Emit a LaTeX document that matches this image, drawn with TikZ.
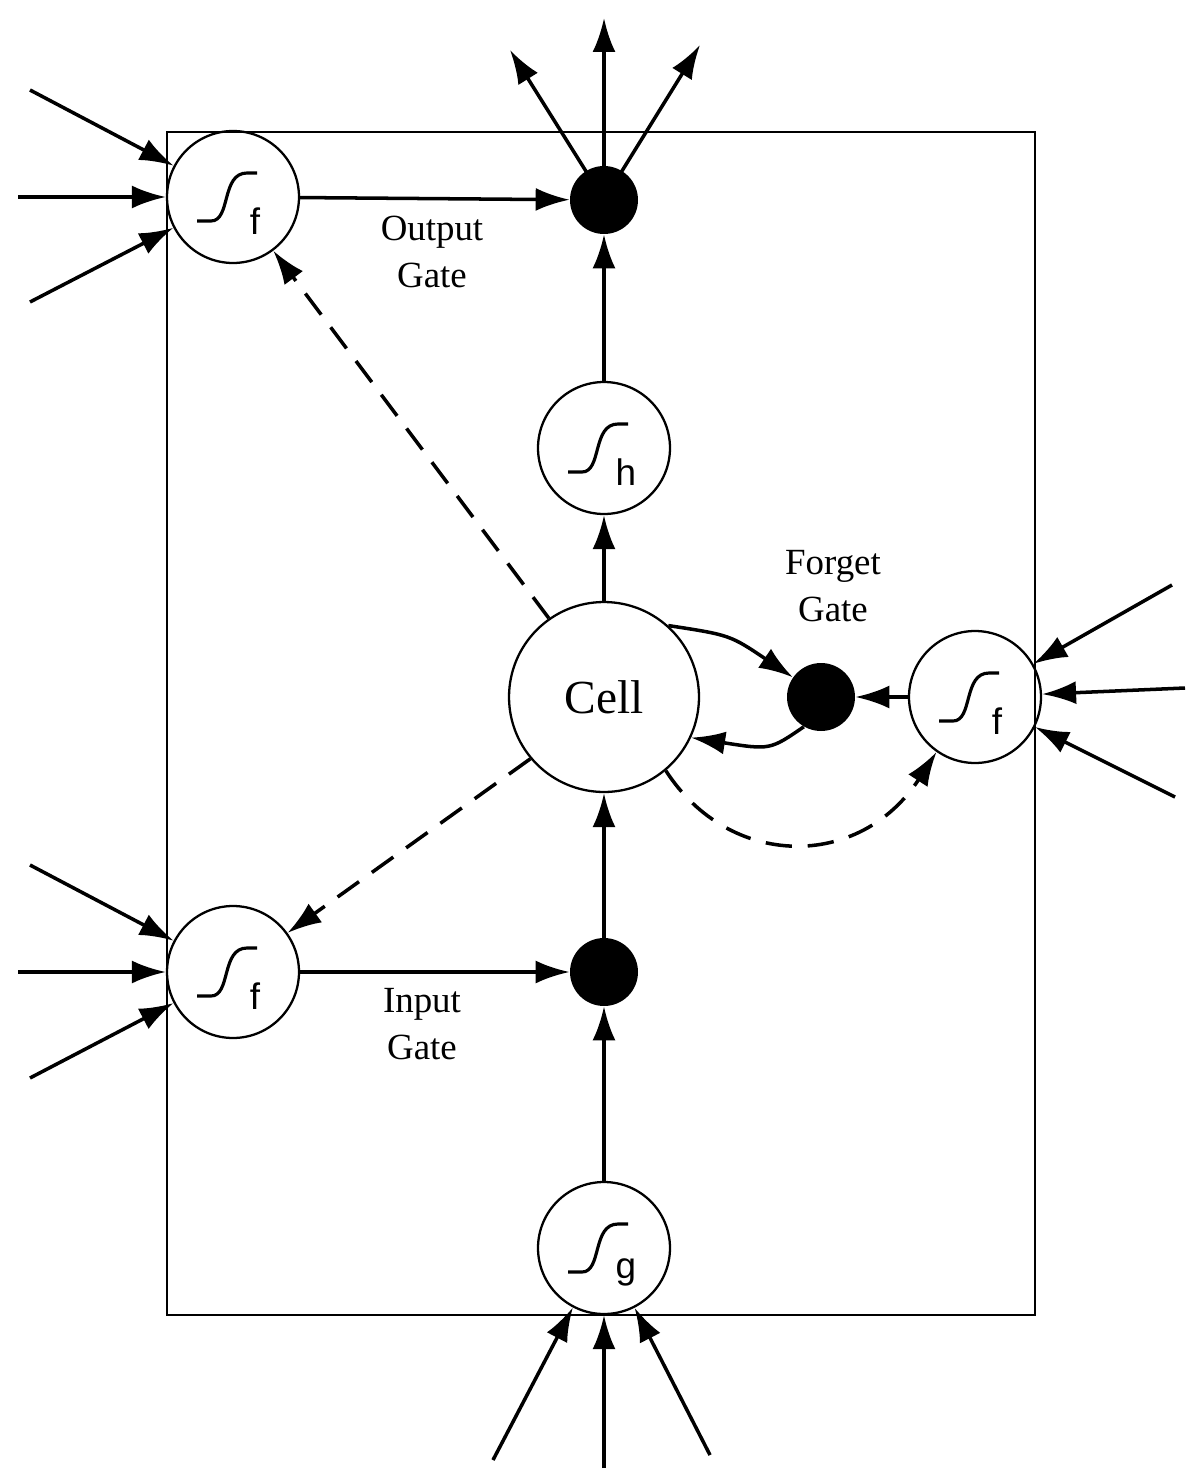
\documentclass[tikz,border=0pt]{standalone}
\usepackage{fontspec}
\setmainfont{Liberation Serif}
\newfontfamily\mysans{Liberation Sans}
\usetikzlibrary{arrows.meta,calc}
\newcommand{\sigm}[3]{%
  \node[sig] (#1) at (#2) {};
  \draw[line width=1.8pt] ($(#2)+(-36,24)$) -- ($(#2)+(-22,24)$) .. controls ($(#2)+(-2,24)$) and ($(#2)+(-12,-24)$) .. ($(#2)+(14,-24)$) -- ($(#2)+(24,-24)$);
  \node[font=\mysans\fontsize{21}{21}\selectfont] at ($(#2)+(22,24)$) {#3};}
\begin{document}
\begin{tikzpicture}[x=0.02cm,y=-0.02cm,
  ln/.style={line width=2pt,-{Latex[length=0.68cm,width=0.46cm]}},
  dsh/.style={ln,dash pattern=on 15pt off 9pt},
  sig/.style={circle,draw,line width=1.3pt,minimum size=2.64cm,inner sep=0pt},
  dot/.style={circle,fill=black,minimum size=1.36cm,inner sep=0pt},
  lab/.style={font=\fontsize{21}{27}\selectfont,align=center}]
\useasboundingbox (0,0) rectangle (1200,1484);
\draw[line width=1.3pt] (167,132) rectangle (1035,1315);
\sigm{og}{233,197}{f}
\sigm{hs}{604,448}{h}
\sigm{fg}{975,697}{f}
\sigm{ig}{233,972}{f}
\sigm{gs}{604,1248}{g}
\node[dot] (od) at (604,200) {};
\node[dot] (fd) at (821,697) {};
\node[dot] (id) at (604,972) {};
\node[circle,draw,line width=1.3pt,minimum size=3.8cm,inner sep=0pt,font=\fontsize{27}{27}\selectfont] (cell) at (604,697) {Cell};
\node[lab] at (432,252) {Output\\Gate};
\node[lab] at (422,1024) {Input\\Gate};
\node[lab] at (833,586) {Forget\\Gate};
\coordinate (a1) at (30,90); \coordinate (a2) at (18,197); \coordinate (a3) at (30,302);
\coordinate (b1) at (30,865); \coordinate (b2) at (18,972); \coordinate (b3) at (30,1078);
\coordinate (c1) at (1172,585); \coordinate (c2) at (1185,688); \coordinate (c3) at (1175,797);
\coordinate (d1) at (493,1460); \coordinate (d2) at (604,1468); \coordinate (d3) at (710,1455);
\coordinate (e1) at (510,50); \coordinate (e2) at (604,18); \coordinate (e3) at (700,45);
\foreach \p in {a1,a2,a3} \draw[ln] (\p) -- (og);
\foreach \p in {b1,b2,b3} \draw[ln] (\p) -- (ig);
\foreach \p in {c1,c2,c3} \draw[ln] (\p) -- (fg);
\foreach \p in {d1,d2,d3} \draw[ln] (\p) -- (gs);
\foreach \p in {e1,e2,e3} \draw[ln] (od.center) -- (\p);
\draw[ln] (og) -- (od);
\draw[ln] (ig) -- (id);
\draw[ln] (hs) -- (od);
\draw[ln] (cell) -- (hs);
\draw[ln] (gs) -- (id);
\draw[ln] (id) -- (cell);
\draw[ln] (cell.48) .. controls (730,635) .. (fd.145);
\draw[ln] (fd.240) .. controls (770,750) .. (cell.-25);
\draw[dsh] (fg) -- (fd);
\draw[dsh] (cell.125) -- (og);
\draw[dsh] (cell.220) -- (ig);
\draw[dsh] (cell.-50) .. controls (730,870) and (860,870) .. (fg.-125);
\end{tikzpicture}
\end{document}
